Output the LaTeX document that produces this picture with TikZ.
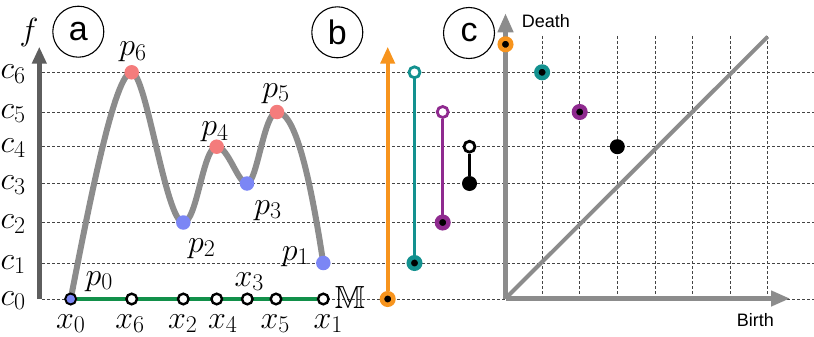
\RequirePackage{fix-cm}
\documentclass[tikz,border=0pt]{standalone}
\usepackage{fontspec}
\usepackage{amssymb}
\DeclareMathSizes{32}{32}{24}{18}
\newfontfamily\arial{Liberation Sans}
\usetikzlibrary{arrows.meta,backgrounds}
\definecolor{cgray}{HTML}{8C8C8C}
\definecolor{cdark}{HTML}{5E5E5E}
\definecolor{cred}{HTML}{F47C7C}
\definecolor{cblue}{HTML}{7B86F5}
\definecolor{cgreen}{HTML}{12904A}
\definecolor{corange}{HTML}{F7941D}
\definecolor{cteal}{HTML}{13918F}
\definecolor{cpurple}{HTML}{8F2A8F}
\definecolor{cdash}{HTML}{444444}
\begin{document}
\begin{tikzpicture}[x=1pt,y=-1pt,
  mlab/.style={font=\fontsize{32}{38}\selectfont, inner sep=0pt, anchor=base},
  clab/.style={font=\fontsize{32}{38}\selectfont, inner sep=0pt, anchor=base west},
  gridline/.style={draw=cdash, line width=0.7pt, dash pattern=on 3pt off 2pt},
  curve/.style={draw=cgray, line width=6pt, line cap=round},
  crit/.style={circle, fill=#1, inner sep=0pt, minimum size=14.5pt},
  mdot/.style={circle, draw=black, fill=white, line width=2.4pt, inner sep=0pt, minimum size=10.6pt},
  ring/.style={circle, draw=#1, fill=white, line width=2.8pt, inner sep=0pt, minimum size=11pt},
  pdot/.style={circle, draw=#1, fill=black, line width=4.5pt, inner sep=0pt, minimum size=11.5pt},
  bigdot/.style={circle, fill=black, inner sep=0pt, minimum size=15pt},
  panel/.style={circle, draw=black, line width=1.1pt, inner sep=0pt, minimum size=51pt, font=\arial\fontsize{34}{40}\selectfont},
  axlab/.style={font=\arial\fontsize{18}{22}\selectfont, inner sep=0pt, anchor=base west},
  caxis/.style={draw=cgray, line width=4.4pt, -{Triangle[length=19pt,width=15pt]}},
]
\useasboundingbox (0,0) rectangle (814,337);

% ---------- panel a ----------
\coordinate (P0) at (70.7,299);
\coordinate (P6) at (131.7,72.3);
\coordinate (P2) at (183.3,222.5);
\coordinate (P4) at (216.7,146.7);
\coordinate (P3) at (247,183.5);
\coordinate (P5) at (277,112);
\coordinate (P1) at (323.3,263);
\coordinate (fb) at (39.3,299);
\coordinate (ft) at (39.3,46.7);

\node[crit=cred] (n6) at (P6) {};
\node[crit=cred] (n4) at (P4) {};
\node[crit=cred] (n5) at (P5) {};
\node[crit=cblue] (n2) at (P2) {};
\node[crit=cblue] (n3) at (P3) {};
\node[crit=cblue] (n1) at (P1) {};

\node[circle, fill=cblue, draw=black, line width=2pt, inner sep=0pt, minimum size=11pt] (x0) at (P0) {};
\node[mdot] (x6) at (131.7,299) {};
\node[mdot] (x2) at (183.3,299) {};
\node[mdot] (x4) at (216.7,299) {};
\node[mdot] (x3) at (247.3,299) {};
\node[mdot] (x5) at (276,299) {};
\node[mdot] (x1) at (323.3,299) {};

\node[mlab] (lf) at (29,41) {$f$};
\node[clab] (c6) at (0.5,78.3) {$c_6$};
\node[clab] (c5) at (0.5,118) {$c_5$};
\node[clab] (c4) at (0.5,152.7) {$c_4$};
\node[clab] (c3) at (0.5,189.5) {$c_3$};
\node[clab] (c2) at (0.5,228.5) {$c_2$};
\node[clab] (c1) at (0.5,269) {$c_1$};
\node[clab] (c0) at (0.5,305) {$c_0$};

\node[mlab] (lp6) at (133,56) {$p_6$};
\node[mlab] (lp5) at (276,97) {$p_5$};
\node[mlab] (lp4) at (215,135.5) {$p_4$};
\node[mlab] (lp3) at (268,214) {$p_3$};
\node[mlab] (lp2) at (201.7,252) {$p_2$};
\node[mlab] (lp1) at (295.5,260) {$p_1$};
\node[mlab] (lp0) at (99.3,285) {$p_0$};
\node[mlab] (lx3) at (249.3,286) {$x_3$};

\node[mlab] (lx0) at (70.7,328) {$x_0$};
\node[mlab] (lx6) at (130,328) {$x_6$};
\node[mlab] (lx2) at (182.7,328) {$x_2$};
\node[mlab] (lx4) at (222.7,328) {$x_4$};
\node[mlab] (lx5) at (275.3,328) {$x_5$};
\node[mlab] (lx1) at (328.3,328) {$x_1$};
\node[mlab] (lM) at (350,308) {$\mathbb{M}$};

\node[panel] (la) at (78.3,31.7) {a};
\node[panel] (lb) at (337.3,32.3) {b};
\node[panel] (lc) at (469,33) {c};

% ---------- panel b ----------
\coordinate (otip) at (387.7,46.7);
\node[pdot=corange] (ob) at (387.7,299) {};
\node[ring=cteal] (tt) at (414.5,72.3) {};
\node[pdot=cteal] (tb) at (414.5,263) {};
\node[ring=cpurple] (pt) at (442.7,112) {};
\node[pdot=cpurple] (pb) at (442.7,222.5) {};
\node[ring=black] (kt) at (469.5,146.7) {};
\node[bigdot] (kb) at (469.5,183.5) {};

% ---------- panel c ----------
\coordinate (O) at (505.5,298.5);
\coordinate (dtip) at (505.5,13.3);
\coordinate (btip) at (790,298.5);
\coordinate (dend) at (767.7,36.7);
\node[pdot=corange] (d0) at (505.5,44.3) {};
\node[pdot=cteal] (d1) at (542.1,72.3) {};
\node[pdot=cpurple] (d2) at (579.7,112) {};
\node[bigdot] (d3) at (617.3,146.7) {};
\node[axlab] (death) at (521.7,27.3) {Death};
\node[axlab] (birth) at (736.7,326.7) {Birth};

\begin{scope}[on background layer]
  \foreach \y in {299,263,222.5,183.5,146.7,112,72.3}
    \draw[gridline] (42,\y) -- (814,\y);
  \foreach \i in {1,...,7}
    \draw[gridline] ({504.5+37.6*\i},36) -- ({504.5+37.6*\i},298);
  \draw[draw=cdark, line width=4.5pt, -{Triangle[length=17pt,width=14pt]}] (fb) -- (ft);
  \draw[curve] (P0) .. controls (90,200) and (115,72.3) .. (P6)
    .. controls (146,72.3) and (166,222.5) .. (P2)
    .. controls (197,222.5) and (203,146.7) .. (P4)
    .. controls (228,146.7) and (238,183.5) .. (P3)
    .. controls (257,183.5) and (264,112) .. (P5)
    .. controls (297,112) and (312,190) .. (P1);
  \draw[draw=cgreen, line width=4.5pt] (x0) -- (x1);
  \draw[draw=corange, line width=4pt, -{Triangle[length=17pt,width=14pt]}] (ob) -- (otip);
  \draw[draw=cteal, line width=3.3pt] (tb) -- (tt);
  \draw[draw=cpurple, line width=3.3pt] (pb) -- (pt);
  \draw[draw=black, line width=3.3pt] (kb) -- (kt);
  \draw[caxis] (O) -- (dtip);
  \draw[caxis] (O) -- (btip);
  \draw[draw=cgray, line width=4pt] (O) -- (dend);
\end{scope}
\end{tikzpicture}
\end{document}
